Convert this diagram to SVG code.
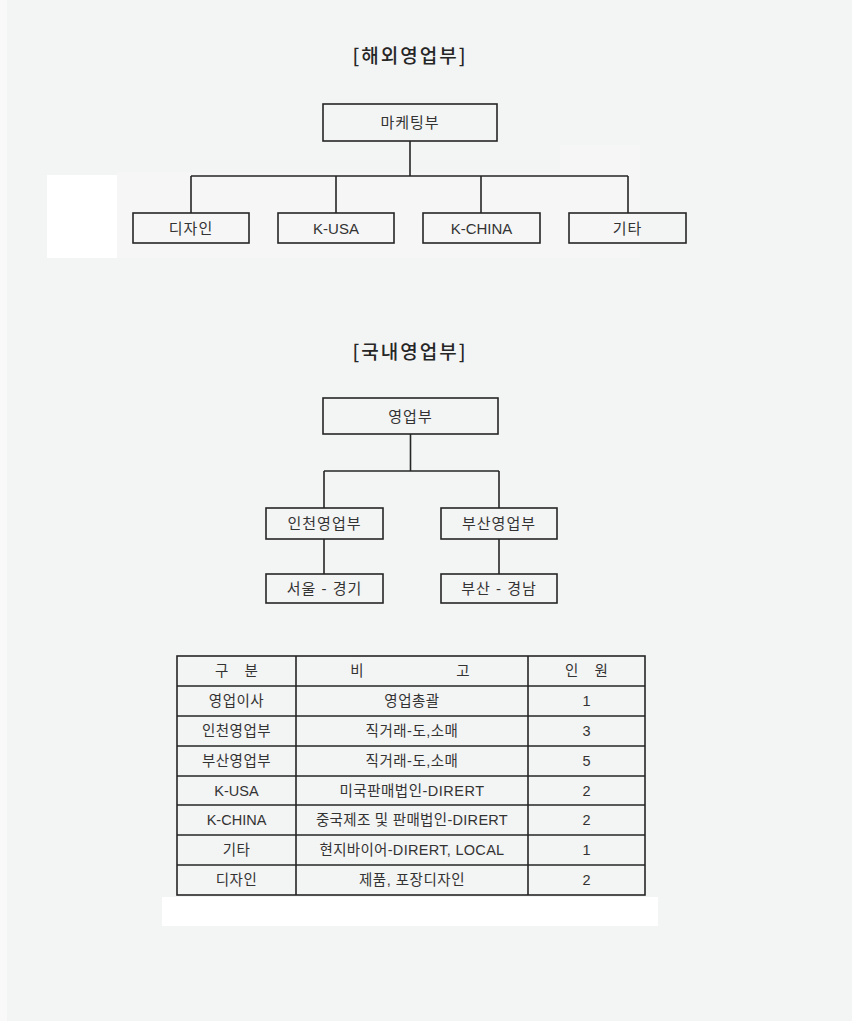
<svg xmlns="http://www.w3.org/2000/svg" width="852" height="1021" viewBox="0 0 852 1021">
<style>
  .box { fill: none; stroke: #262626; stroke-width: 1.6; }
  .ln { fill: none; stroke: #262626; stroke-width: 1.6; }
  .t { font-family: "Liberation Sans", "Noto Sans CJK KR", sans-serif; font-size: 15px; fill: #333; text-anchor: middle; dominant-baseline: central; }
  .title { font-family: "Noto Sans CJK KR", sans-serif; font-size: 19px; font-weight: 500; fill: #262626; text-anchor: middle; dominant-baseline: central; letter-spacing: 2px; }
  .tb { font-family: "Liberation Sans", "Noto Sans CJK KR", sans-serif; font-size: 14.5px; fill: #333; text-anchor: middle; dominant-baseline: central; }
</style>
<rect x="0" y="0" width="852" height="1021" fill="#f3f4f4"/>
<rect x="0" y="0" width="7" height="1021" fill="#f9f9f9"/>
<rect x="47" y="175" width="70" height="83" fill="#ffffff"/>
<rect x="117" y="172" width="523" height="86" fill="#f6f6f6"/>
<rect x="560" y="145" width="80" height="30" fill="#f6f6f6"/>
<rect x="162" y="897" width="496" height="29" fill="#ffffff"/>

<text class="title" x="410" y="54">[해외영업부]</text>
<text class="title" x="410" y="350">[국내영업부]</text>

<g id="connectors">
  <path class="ln" d="M410,141 V176 M191,176 H628 M191,176 V213 M336,176 V213 M481,176 V213 M628,176 V213"/>
  <path class="ln" d="M410.5,434 V471 M324,471 H499 M324,471 V508 M499,471 V508 M324,539 V574 M499,539 V574"/>
</g>

<g id="n-marketing"><rect class="box" x="323" y="104" width="174" height="37"/><text class="t" x="410" y="122" letter-spacing="1">마케팅부</text></g>
<g id="n-design"><rect class="box" x="133" y="213" width="116" height="30"/><text class="t" x="191" y="228" letter-spacing="1">디자인</text></g>
<g id="n-kusa"><rect class="box" x="278" y="213" width="116" height="30"/><text class="t" x="336" y="228">K-USA</text></g>
<g id="n-kchina"><rect class="box" x="423" y="213" width="117" height="30"/><text class="t" x="481.5" y="228">K-CHINA</text></g>
<g id="n-etc"><rect class="box" x="569" y="213" width="117" height="30"/><text class="t" x="627.5" y="228" letter-spacing="1">기타</text></g>

<g id="n-sales"><rect class="box" x="323" y="398" width="175" height="36"/><text class="t" x="410.5" y="416" letter-spacing="1">영업부</text></g>
<g id="n-incheon"><rect class="box" x="266" y="508" width="117" height="31"/><text class="t" x="324.5" y="523.5" letter-spacing="1">인천영업부</text></g>
<g id="n-busan"><rect class="box" x="441" y="508" width="116" height="31"/><text class="t" x="499" y="523.5" letter-spacing="1">부산영업부</text></g>
<g id="n-seoul"><rect class="box" x="266" y="574" width="117" height="29"/><text class="t" x="324.5" y="588.5" letter-spacing="1">서울 - 경기</text></g>
<g id="n-gyeongnam"><rect class="box" x="441" y="574" width="116" height="29"/><text class="t" x="499" y="588.5" letter-spacing="1">부산 - 경남</text></g>

<g id="table">
  <rect class="box" x="177" y="656" width="468" height="239"/>
  <path class="ln" d="M296,656 V895 M528,656 V895 M177,686 H645 M177,716 H645 M177,746 H645 M177,776 H645 M177,805 H645 M177,835 H645 M177,865 H645"/>
  <text class="tb" x="236.5" y="671" xml:space="preserve">구    분</text>
  <text class="tb" x="410" y="671" xml:space="preserve">비                       고</text>
  <text class="tb" x="586.5" y="671" xml:space="preserve">인    원</text>

  <text class="tb" x="236.5" y="701" letter-spacing="0.5">영업이사</text>
  <text class="tb" x="412" y="701" letter-spacing="0.5">영업총괄</text>
  <text class="tb" x="586.5" y="701">1</text>

  <text class="tb" x="236.5" y="731" letter-spacing="0.5">인천영업부</text>
  <text class="tb" x="412" y="731" letter-spacing="0.5">직거래-도,소매</text>
  <text class="tb" x="586.5" y="731">3</text>

  <text class="tb" x="236.5" y="761" letter-spacing="0.5">부산영업부</text>
  <text class="tb" x="412" y="761" letter-spacing="0.5">직거래-도,소매</text>
  <text class="tb" x="586.5" y="761">5</text>

  <text class="tb" x="236.5" y="790.5">K-USA</text>
  <text class="tb" x="412" y="790.5" letter-spacing="0.5">미국판매법인-DIRERT</text>
  <text class="tb" x="586.5" y="790.5">2</text>

  <text class="tb" x="236.5" y="820">K-CHINA</text>
  <text class="tb" x="412" y="820" letter-spacing="0.3">중국제조 및 판매법인-DIRERT</text>
  <text class="tb" x="586.5" y="820">2</text>

  <text class="tb" x="236.5" y="850" letter-spacing="0.5">기타</text>
  <text class="tb" x="412" y="850" letter-spacing="0.3">현지바이어-DIRERT, LOCAL</text>
  <text class="tb" x="586.5" y="850">1</text>

  <text class="tb" x="236.5" y="880" letter-spacing="0.5">디자인</text>
  <text class="tb" x="412" y="880" letter-spacing="0.5">제품, 포장디자인</text>
  <text class="tb" x="586.5" y="880">2</text>
</g>
</svg>
